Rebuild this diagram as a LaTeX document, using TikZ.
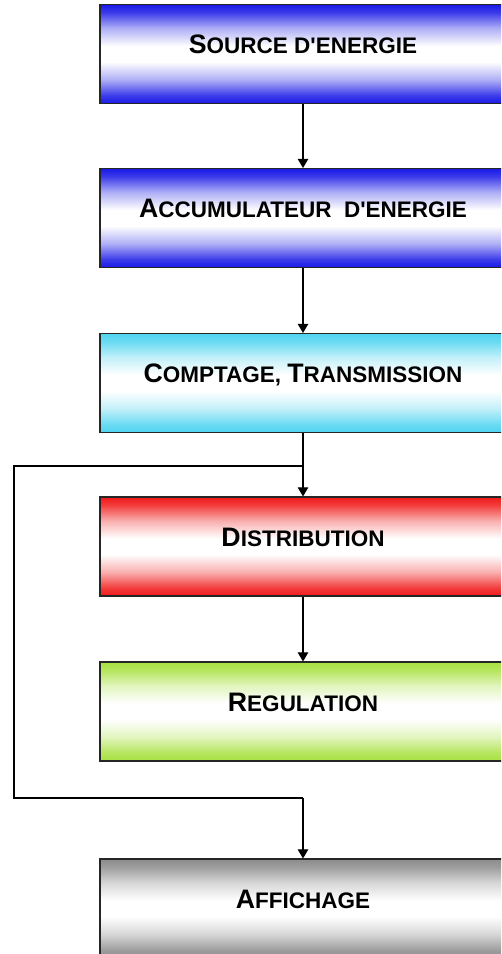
\documentclass[tikz,border=0pt]{standalone}
\usepackage{fontspec}
\setmainfont{Liberation Sans}
\usepackage{tikz}
\usetikzlibrary{arrows.meta,positioning}

\definecolor{srcblue}{RGB}{25,25,230}
\definecolor{cntcyan}{RGB}{80,212,240}
\definecolor{dstred}{RGB}{240,25,25}
\definecolor{reggreen}{RGB}{168,225,65}
\definecolor{affgray}{RGB}{140,140,140}

\newcommand{\bande}[1]{\pgfdeclareverticalshading{bande#1}{100bp}{color(0bp)=(#1); color(25bp)=(#1);
  color(29bp)=(#1!85!white); color(37bp)=(#1!35!white); color(46bp)=(white); color(54bp)=(white);
  color(63bp)=(#1!35!white); color(71bp)=(#1!85!white); color(75bp)=(#1); color(100bp)=(#1)}}
\bande{srcblue}\bande{cntcyan}\bande{dstred}\bande{reggreen}\bande{affgray}

\newcommand{\grandeinit}[1]{{\fontsize{19}{21}\selectfont #1}}

\tikzset{
  etage/.style={draw=black!85, line width=0.9pt, minimum width=10.15cm, minimum height=2.47cm,
    shading=bande#1, text height=12pt, text depth=12.6pt,
    font=\bfseries\fontsize{16}{18}\selectfont},
  fleche/.style={-{Triangle[width=7.5pt,length=6.5pt]}, line width=0.9pt}
}

\begin{document}
\begin{tikzpicture}[x=0.025cm,y=-0.025cm]
\clip (0,0) rectangle (501,954);
\fill[white] (0,0) rectangle (501,954);

\node (b1) at (303,54) [etage=srcblue] {\grandeinit{S}OURCE D\textquotesingle ENERGIE};
\node (b2) at (303,218) [etage=srcblue] {\grandeinit{A}CCUMULATEUR\ \ D\textquotesingle ENERGIE};
\node (b3) at (303,383) [etage=cntcyan] {\grandeinit{C}OMPTAGE, \grandeinit{T}RANSMISSION};
\node (b4) at (303,546.5) [etage=dstred] {\grandeinit{D}ISTRIBUTION};
\node (b5) at (303,711.5) [etage=reggreen] {\grandeinit{R}EGULATION};
\node (b6) at (303,908.5) [etage=affgray] {\grandeinit{A}FFICHAGE};

\coordinate (split) at (303,466);
\coordinate (haut) at (14,466);
\coordinate (bas) at (14,798);
\coordinate (retour) at (303,798);

\draw[fleche] (b1) -- (b2);
\draw[fleche] (b2) -- (b3);
\draw[fleche] (b3) -- (b4);
\draw[fleche] (b4) -- (b5);
\draw[line width=0.9pt] (split) -- (haut) -- (bas) -- (retour);
\draw[fleche] (retour) -- (b6);
\end{tikzpicture}
\end{document}
